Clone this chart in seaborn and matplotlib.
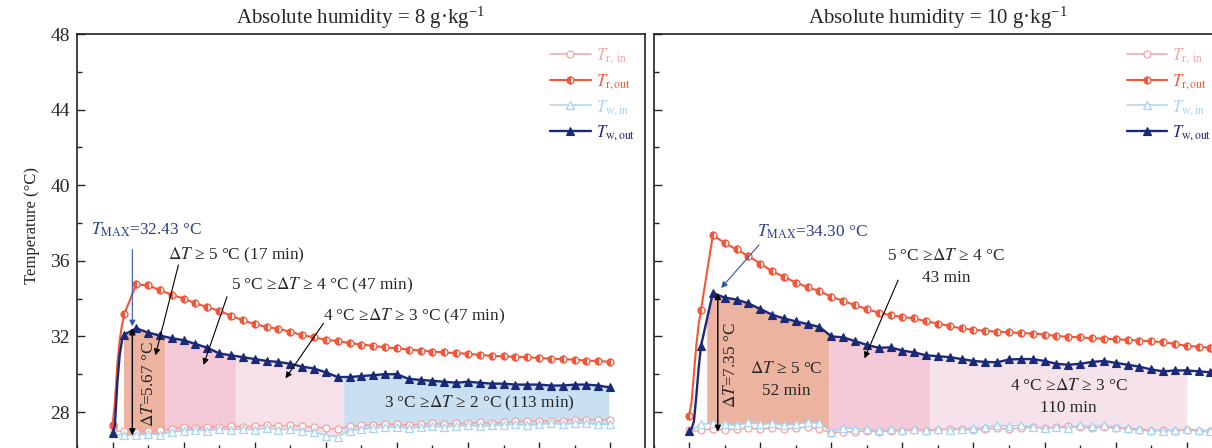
import numpy as np
import matplotlib
matplotlib.use("Agg")
import matplotlib.pyplot as plt
import seaborn as sns

# ---------------- data ----------------
t_left = [0, 1, 2, 3, 4, 5, 10, 15, 20, 25, 30, 35, 40, 45, 50, 55, 60, 65, 70, 75, 80, 85, 90, 95,
          100, 105, 110, 115, 120, 125, 130, 135, 140, 145, 150, 155, 160, 165, 170, 175, 180,
          185, 190, 195, 200, 205, 210]
tr_in_left = [27.2, 27.1, 27.0, 27.0, 27.0, 27.0, 26.95, 27.0, 27.05, 27.1, 27.2, 27.15, 27.2, 27.2,
              27.25, 27.2, 27.25, 27.3, 27.25, 27.3, 27.25, 27.2, 27.15, 27.1, 27.25, 27.3, 27.3,
              27.35, 27.35, 27.3, 27.35, 27.4, 27.35, 27.4, 27.4, 27.45, 27.4, 27.45, 27.5, 27.5,
              27.55, 27.5, 27.55, 27.6, 27.6, 27.6, 27.6]
tr_out_left = [27.3, 28.5, 30.5, 31.8, 32.6, 33.2, 34.75, 34.7, 34.45, 34.2, 34.0, 33.75, 33.55,
               33.35, 33.1, 32.85, 32.65, 32.5, 32.4, 32.25, 32.07, 31.95, 31.82, 31.75, 31.65,
               31.57, 31.5, 31.42, 31.37, 31.3, 31.25, 31.2, 31.15, 31.12, 31.08, 31.02, 30.97,
               30.95, 30.92, 30.9, 30.86, 30.82, 30.8, 30.77, 30.72, 30.7, 30.65]
tw_in_left = [27.0, 26.9, 26.8, 26.8, 26.8, 26.76, 26.76, 26.85, 26.8, 26.95, 27.0, 27.05, 27.0,
              27.1, 27.05, 27.1, 27.05, 27.15, 27.05, 27.1, 27.0, 26.95, 26.75, 26.7, 27.0, 27.1,
              27.15, 27.2, 27.2, 27.15, 27.2, 27.25, 27.2, 27.25, 27.3, 27.25, 27.3, 27.3, 27.35,
              27.3, 27.35, 27.4, 27.35, 27.4, 27.4, 27.35, 27.35]
tw_out_left = [26.9, 27.3, 29.5, 31.0, 31.8, 32.1, 32.43, 32.2, 32.05, 31.9, 31.8, 31.6, 31.4,
               31.1, 31.0, 30.9, 30.8, 30.7, 30.65, 30.55, 30.4, 30.3, 30.1, 29.85, 29.85, 29.9,
               29.95, 30.0, 30.0, 29.75, 29.7, 29.65, 29.6, 29.55, 29.6, 29.55, 29.5, 29.5, 29.45,
               29.45, 29.45, 29.4, 29.4, 29.45, 29.45, 29.4, 29.3]

t_right = [0, 1, 2, 3, 4, 5, 10, 15, 20, 25, 30, 35, 40, 45, 50, 55, 60, 65, 70, 75, 80, 85, 90,
           95, 100, 105, 110, 115, 120, 125, 130, 135, 140, 145, 150, 155, 160, 165, 170, 175,
           180, 185, 190, 195, 200, 205, 210, 215, 220]
tr_in_right = [27.05, 27.0, 27.0, 27.0, 27.0, 27.05, 27.1, 27.05, 27.1, 27.15, 27.1, 27.15, 27.1,
               27.15, 27.2, 27.1, 26.9, 26.95, 26.95, 27.0, 26.95, 27.0, 27.0, 27.05, 27.0, 27.05,
               27.1, 27.1, 27.05, 27.1, 27.15, 27.1, 27.15, 27.2, 27.15, 27.2, 27.25, 27.2, 27.15,
               27.2, 27.15, 27.1, 27.05, 27.0, 27.05, 27.0, 27.05, 27.0, 27.0]
tr_out_right = [27.8, 28.5, 30.0, 31.5, 32.6, 33.4, 37.35, 36.95, 36.6, 36.25, 35.85, 35.45,
                35.15, 34.85, 34.6, 34.4, 34.1, 33.88, 33.65, 33.45, 33.25, 33.12, 33.03, 32.95,
                32.8, 32.68, 32.55, 32.42, 32.35, 32.3, 32.25, 32.22, 32.18, 32.15, 32.1, 32.02,
                31.98, 31.95, 31.9, 31.88, 31.85, 31.82, 31.78, 31.74, 31.7, 31.6, 31.5, 31.45,
                31.4]
tw_in_right = [27.0, 27.0, 27.1, 27.2, 27.3, 27.35, 27.4, 27.35, 27.3, 27.45, 27.35, 27.4, 27.3,
               27.35, 27.45, 27.4, 26.95, 27.15, 27.1, 27.1, 27.05, 27.1, 27.05, 27.1, 27.05,
               27.1, 27.05, 27.1, 27.15, 27.2, 27.3, 27.25, 27.3, 27.2, 27.15, 27.2, 27.15, 27.3,
               27.25, 27.3, 27.2, 27.15, 27.1, 27.05, 27.0, 27.05, 27.1, 27.05, 27.0]
tw_out_right = [27.0, 27.1, 27.5, 28.8, 30.3, 31.5, 34.3, 34.05, 33.95, 33.75, 33.45, 33.15,
                32.95, 32.8, 32.65, 32.5, 32.0, 31.95, 31.75, 31.55, 31.4, 31.42, 31.25, 31.15,
                31.0, 30.95, 30.9, 30.8, 30.7, 30.65, 30.63, 30.78, 30.8, 30.8, 30.7, 30.55, 30.5,
                30.55, 30.65, 30.7, 30.6, 30.5, 30.4, 30.25, 30.15, 30.2, 30.2, 30.15, 30.1]

# shaded zones (minutes)
left_zone_start = [4.6, 22.0, 52.0, 97.5]
left_zone_end = [22.0, 52.0, 97.5, 209.5]
right_zone_start = [7.4, 59.0, 101.6]
right_zone_end = [59.0, 101.6, 210.0]

titles = [r"Absolute humidity = 8 g·kg$^{\mathregular{-1}}$",
          r"Absolute humidity = 10 g·kg$^{\mathregular{-1}}$"]
series_labels = [r"$T_{\mathrm{r,\ in}}$", r"$T_{\mathrm{r,out}}$",
                 r"$T_{\mathrm{w,in}}$", r"$T_{\mathrm{w,out}}$"]
tmax_left, dT_left = 32.43, 5.67
tmax_right, dT_right = 34.30, 7.35

# ---------------- style ----------------
sns.set_style("ticks")
plt.rcParams["font.family"] = ["Liberation Serif", "DejaVu Serif"]
plt.rcParams["mathtext.fontset"] = "stix"

C_RIN = "#F4A3A0"
C_ROUT = "#F2573A"
C_WIN = "#A9D3F2"
C_WOUT = "#1B2A78"
C_TMAX = "#2B3F8F"
left_zone_colors = ["#ECB4A0", "#F4CAD8", "#F6E1EA", "#C8E0F2"]
right_zone_colors = ["#ECB4A0", "#F4CAD8", "#F6E2EB"]

fig = plt.figure(figsize=(12.12, 4.48), dpi=100)
W, H = 1212.0, 448.0
ax_h = 415.8 / H
ax_b = (448 - 449.8) / H
ax_w = 568.0 / W
ax1 = fig.add_axes([77 / W, ax_b, ax_w, ax_h])
ax2 = fig.add_axes([653.6 / W, ax_b, ax_w, ax_h])


def mark_idx(t):
    return [i for i, v in enumerate(t) if v % 5 == 0]


def draw_panel(ax, t, rin, rout, win, wout, zs, ze, zc, title):
    for a, b, c in zip(zs, ze, zc):
        tt = np.linspace(a, b, 300)
        ax.fill_between(tt, np.interp(tt, t, win), np.interp(tt, t, wout),
                        color=c, lw=0, zorder=1)
    me = mark_idx(t)
    sns.lineplot(x=t, y=rin, ax=ax, color=C_RIN, lw=1.1, marker="o", markersize=5,
                 markerfacecolor="white", markeredgecolor=C_RIN, markeredgewidth=0.9,
                 markevery=me, estimator=None, sort=False, label=series_labels[0], zorder=3)
    sns.lineplot(x=t, y=rout, ax=ax, color=C_ROUT, lw=1.5, marker="o", markersize=5,
                 fillstyle="left", markerfacecolor=C_ROUT, markerfacecoloralt="white",
                 markeredgecolor=C_ROUT, markeredgewidth=0.9, markevery=me,
                 estimator=None, sort=False, label=series_labels[1], zorder=4)
    sns.lineplot(x=t, y=win, ax=ax, color=C_WIN, lw=1.1, marker="^", markersize=5.5,
                 markerfacecolor="white", markeredgecolor=C_WIN, markeredgewidth=0.9,
                 markevery=me, estimator=None, sort=False, label=series_labels[2], zorder=3)
    sns.lineplot(x=t, y=wout, ax=ax, color=C_WOUT, lw=1.7, marker="^", markersize=5.5,
                 markerfacecolor=C_WOUT, markeredgecolor=C_WOUT, markeredgewidth=0.8,
                 markevery=me, estimator=None, sort=False, label=series_labels[3], zorder=5)

    ax.set_xlim(-15, 224.7)
    ax.set_ylim(26, 48)
    ax.set_xticks(np.arange(0, 211, 30))
    ax.set_xticks(np.arange(-15, 224, 15), minor=True)
    ax.set_yticks(np.arange(28, 49, 4))
    ax.set_yticks(np.arange(26, 49, 2), minor=True)
    ax.tick_params(which="major", direction="in", length=6, width=1.0, labelsize=14,
                   top=False, right=False, pad=5, labelbottom=False)
    ax.tick_params(which="minor", direction="in", length=3.5, width=1.0,
                   top=False, right=False)
    for s in ax.spines.values():
        s.set_linewidth(1.2)
        s.set_color("#222222")
    ax.set_xlabel("")
    ax.set_ylabel("")
    ax.set_title(title, fontsize=15, pad=7)
    leg = ax.legend(loc="upper right", bbox_to_anchor=(1.0, 0.995), frameon=False,
                    fontsize=12, handlelength=2.45, handletextpad=0.3, labelspacing=0.35,
                    borderaxespad=0.2, labelcolor="linecolor")
    return leg


draw_panel(ax1, t_left, tr_in_left, tr_out_left, tw_in_left, tw_out_left,
           left_zone_start, left_zone_end, left_zone_colors, titles[0])
draw_panel(ax2, t_right, tr_in_right, tr_out_right, tw_in_right, tw_out_right,
           right_zone_start, right_zone_end, right_zone_colors, titles[1])
ax2.tick_params(labelleft=False)
ax1.set_ylabel("Temperature (°C)", fontsize=12, labelpad=8)
ax1.yaxis.set_label_coords(-0.066, (449.8 - 226) / 415.8)

AFS = 12.4
arrow_k = dict(arrowstyle="-|>", color="black", lw=0.8, mutation_scale=9,
               shrinkA=0, shrinkB=0)
dbl_k = dict(arrowstyle="<|-|>", color="black", lw=1.0, mutation_scale=9,
             shrinkA=0, shrinkB=0)
tmax_k = dict(arrowstyle="-|>", color="#3355AA", lw=0.8, mutation_scale=9,
              shrinkA=0, shrinkB=0)

# ---- left annotations ----
ax1.text(-8.9, 37.63, rf"$T_{{\mathrm{{MAX}}}}$={tmax_left:.2f} °C", color=C_TMAX,
         fontsize=AFS, ha="left", va="center", zorder=6)
ax1.annotate("", xy=(8.35, tmax_left + 0.1), xytext=(8.35, 36.6), arrowprops=tmax_k, zorder=6)
ax1.annotate("", xy=(8.35, tmax_left - dT_left), xytext=(8.35, tmax_left),
             arrowprops=dbl_k, zorder=6)
ax1.text(15.2, 29.48, rf"$\Delta T$={dT_left:.2f} °C", rotation=90, fontsize=AFS,
         ha="center", va="center", zorder=6)
ax1.text(52.4, 36.3, r"$\Delta T$ ≥ 5 °C (17 min)", fontsize=AFS, ha="center", va="center")
ax1.annotate("", xy=(18.1, 31.0), xytext=(27.8, 35.78), arrowprops=arrow_k, zorder=6)
ax1.text(88.2, 34.72, r"5 °C ≥$\Delta T$ ≥ 4 °C (47 min)", fontsize=AFS, ha="center",
         va="center")
ax1.annotate("", xy=(38.4, 30.49), xytext=(48.3, 34.1), arrowprops=arrow_k, zorder=6)
ax1.text(127.4, 33.04, r"4 °C ≥$\Delta T$ ≥ 3 °C (47 min)", fontsize=AFS, ha="center",
         va="center")
ax1.annotate("", xy=(73.0, 29.78), xytext=(89.0, 32.69), arrowprops=arrow_k, zorder=6)
ax1.text(154.6, 28.48, r"3 °C ≥$\Delta T$ ≥ 2 °C (113 min)", fontsize=AFS, ha="center",
         va="center", zorder=6)

# ---- right annotations ----
ax2.text(28.5, 37.54, rf"$T_{{\mathrm{{MAX}}}}$={tmax_right:.2f} °C", color=C_TMAX,
         fontsize=AFS, ha="left", va="center", zorder=6)
ax2.annotate("", xy=(13.5, 34.56), xytext=(29.5, 36.84), arrowprops=tmax_k, zorder=6)
ax2.annotate("", xy=(12.1, tmax_right - dT_right), xytext=(12.1, tmax_right),
             arrowprops=dbl_k, zorder=6)
ax2.text(17.7, 30.49, rf"$\Delta T$={dT_right:.2f} °C", rotation=90, fontsize=AFS,
         ha="center", va="center", zorder=6)
ax2.text(40.8, 29.7, "$\\Delta T$ ≥ 5 °C\n52 min", fontsize=AFS, ha="center", va="center",
         linespacing=1.5, zorder=6)
ax2.text(108.3, 35.65, "5 °C ≥$\\Delta T$ ≥ 4 °C\n43 min", fontsize=AFS, ha="center",
         va="center", linespacing=1.5)
ax2.annotate("", xy=(74.0, 30.84), xytext=(88.2, 34.98), arrowprops=arrow_k, zorder=6)
ax2.text(160.1, 28.77, "4 °C ≥$\\Delta T$ ≥ 3 °C\n110 min", fontsize=AFS, ha="center",
         va="center", linespacing=1.5, zorder=6)

fig.savefig("out.png", dpi=100)
